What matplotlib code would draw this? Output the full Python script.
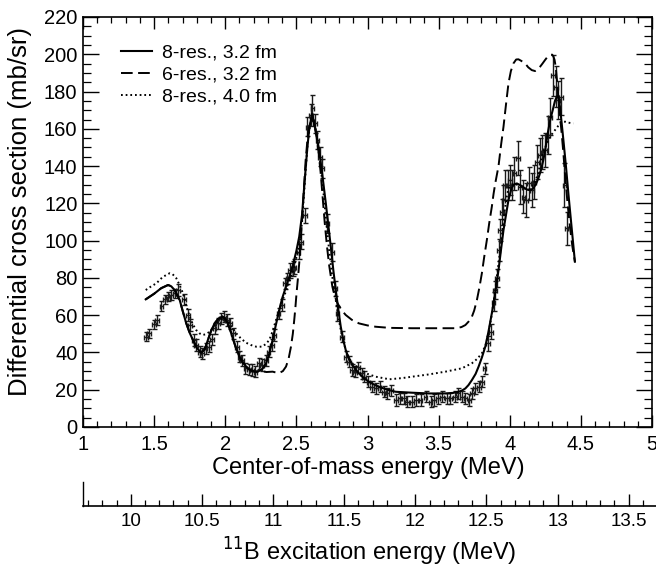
import numpy as np
import matplotlib
matplotlib.use("Agg")
import matplotlib.pyplot as plt
from matplotlib.ticker import MultipleLocator

plt.rcParams['font.family'] = ['Liberation Sans', 'DejaVu Sans']

# ---------------- data ----------------
THRESHOLD = 8.664  # E_x = E_cm + threshold (MeV)

data_e = [1.441, 1.465, 1.500, 1.520, 1.551, 1.574, 1.598, 1.621, 1.644, 1.668,
          1.708, 1.738, 1.754, 1.778, 1.796, 1.820, 1.838, 1.862, 1.885, 1.909,
          1.925, 1.948, 1.972, 1.991, 2.011, 2.035, 2.053, 2.081, 2.100, 2.119,
          2.142, 2.165, 2.189, 2.212, 2.235, 2.259, 2.287, 2.305, 2.329, 2.345,
          2.375, 2.399, 2.422, 2.437, 2.455, 2.474, 2.485, 2.515, 2.532, 2.560,
          2.578, 2.602, 2.613, 2.632, 2.648, 2.665, 2.683, 2.718, 2.753, 2.772,
          2.789, 2.819, 2.847, 2.870, 2.889, 2.913, 2.932, 2.959, 2.975, 3.006,
          3.034, 3.060, 3.085, 3.116, 3.139, 3.165, 3.198, 3.226, 3.256, 3.279,
          3.314, 3.342, 3.373, 3.408, 3.443, 3.466, 3.496, 3.524, 3.559, 3.583,
          3.613, 3.636, 3.664, 3.688, 3.716, 3.735, 3.758, 3.782, 3.804, 3.823,
          3.847, 3.870, 3.886, 3.898, 3.909, 3.921, 3.933, 3.944, 3.956, 3.968,
          3.986, 4.003, 4.015, 4.033, 4.057, 4.073, 4.096, 4.115, 4.136, 4.155,
          4.173, 4.194, 4.213, 4.230, 4.248, 4.267, 4.283, 4.306, 4.323, 4.341,
          4.358, 4.384, 4.400]
data_sigma = [48.4, 50.3, 55.1, 57.4, 64.9, 68.5, 69.9, 70.8, 71.7, 73.5,
              68.5, 60.1, 54.7, 46.7, 44.0, 40.4, 39.5, 42.2, 43.1, 47.0,
              52.9, 55.6, 58.3, 59.2, 57.4, 55.6, 50.3, 43.1, 37.7, 35.9,
              31.5, 31.0, 30.6, 29.7, 34.2, 33.3, 35.9, 40.4, 44.0, 49.4,
              61.0, 65.5, 77.1, 79.8, 84.2, 85.1, 86.0, 94.0, 99.4, 113.7,
              161.1, 167.4, 171.0, 162.9, 154.0, 145.0, 138.8, 109.3, 94.0, 74.4,
              61.0, 48.4, 37.7, 35.0, 30.6, 29.7, 32.1, 28.8, 27.0, 24.3,
              21.6, 20.7, 21.6, 18.9, 18.0, 19.8, 14.5, 15.4, 15.4, 13.6,
              13.6, 14.5, 14.5, 16.3, 13.6, 14.5, 15.4, 16.3, 15.4, 15.4,
              16.3, 18.0, 16.3, 15.4, 14.5, 18.0, 20.7, 21.6, 24.3, 31.5,
              44.9, 51.1, 67.2, 73.5, 80.0, 95.0, 105.7, 115.5, 121.8, 129.8,
              129.8, 132.5, 129.8, 136.1, 144.2, 128.9, 123.6, 121.8, 130.7, 127.1,
              131.6, 142.3, 145.9, 147.7, 148.6, 156.7, 166.5, 188.8, 182.6, 175.4,
              177.2, 129.8, 106.6]
data_err = [2.5, 2.5, 2.5, 2.5, 2.5, 2.5, 2.5, 2.5, 2.5, 3,
            3, 3, 3, 3, 3, 3, 3, 3, 3, 3,
            3, 3, 3, 3, 3, 3, 3, 3, 3, 3,
            3, 3, 3, 3, 3, 3, 3, 3, 3, 3,
            3, 3, 3, 3, 4, 4, 4, 4, 4, 4,
            5, 6, 7, 5, 5, 5, 5, 5, 5, 4,
            4, 3, 3, 3, 3, 3, 3, 3, 3, 3,
            3, 3, 3, 3, 3, 3, 3, 3, 3, 3,
            3, 3, 3, 3, 3, 3, 3, 3, 3, 3,
            3, 3, 3, 3, 3, 3, 3, 3, 3, 3,
            4, 4, 5, 5, 5, 6, 6, 7, 8, 8,
            8, 8, 8, 9, 9, 9, 9, 9, 9, 9,
            9, 9, 9, 9, 9, 10, 10, 11, 11, 10,
            10, 12, 9]

# 8-res., 3.2 fm
solid_e = [1.441, 1.50, 1.55, 1.598, 1.62, 1.644, 1.68, 1.70, 1.726, 1.75,
           1.773, 1.80, 1.83, 1.855, 1.878, 1.90, 1.925, 1.95, 1.98, 2.00,
           2.018, 2.035, 2.053, 2.075, 2.10, 2.125, 2.147, 2.175, 2.205, 2.23,
           2.252, 2.27, 2.287, 2.31, 2.333, 2.355, 2.38, 2.40, 2.427, 2.45,
           2.473, 2.50, 2.52, 2.54, 2.555, 2.575, 2.59, 2.61, 2.63, 2.645,
           2.66, 2.683, 2.707, 2.725, 2.742, 2.76, 2.777, 2.795, 2.812, 2.83,
           2.847, 2.87, 2.894, 2.92, 2.94, 2.975, 3.01, 3.045, 3.08, 3.14,
           3.198, 3.314, 3.431, 3.548, 3.60, 3.641, 3.665, 3.688, 3.71, 3.734,
           3.76, 3.781, 3.805, 3.828, 3.85, 3.874, 3.90, 3.921, 3.94, 3.956,
           3.975, 3.991, 4.014, 4.03, 4.05, 4.073, 4.09, 4.108, 4.125, 4.143,
           4.166, 4.185, 4.201, 4.22, 4.236, 4.25, 4.267, 4.285, 4.302, 4.318,
           4.33, 4.34, 4.353, 4.365, 4.377, 4.395, 4.412, 4.435, 4.458]
solid_sigma = [68.5, 71.5, 74.5, 76.2, 75.5, 73.5, 68.1, 62.5, 55.6, 50.5,
               46.7, 42.5, 39.9, 41.5, 46.7, 51.5, 55.6, 58.0, 59.2, 58.0,
               55.6, 52.0, 47.6, 42.5, 37.7, 34.5, 32.4, 30.5, 29.7, 29.8,
               30.6, 32.0, 34.2, 39.5, 46.7, 54.5, 62.8, 69.0, 75.3, 80.5,
               86.0, 94.5, 102.1, 114.0, 128.9, 148.0, 160.0, 168.0, 161.0, 155.0,
               148.6, 135.0, 120.0, 108.0, 96.7, 84.0, 73.5, 63.0, 53.8, 46.5,
               41.3, 36.5, 33.3, 30.5, 28.8, 26.2, 24.3, 22.8, 21.6, 20.0,
               18.9, 18.4, 18.0, 18.0, 18.3, 18.9, 19.6, 20.7, 22.5, 25.2,
               28.5, 32.4, 37.5, 43.1, 51.0, 61.0, 73.0, 84.2, 96.0, 105.7,
               114.5, 121.8, 128.5, 130.2, 130.7, 129.8, 129.0, 128.0, 127.3, 127.1,
               128.0, 130.5, 133.4, 138.0, 143.2, 149.0, 157.6, 165.0, 170.0, 175.0,
               177.2, 178.0, 171.8, 163.0, 154.0, 140.0, 125.4, 107.0, 88.7]

# 6-res., 3.2 fm
dash_e = [1.441, 1.50, 1.55, 1.598, 1.62, 1.644, 1.68, 1.70, 1.726, 1.75,
          1.773, 1.80, 1.83, 1.855, 1.878, 1.90, 1.925, 1.95, 1.98, 2.00,
          2.018, 2.035, 2.053, 2.075, 2.10, 2.125, 2.147, 2.175, 2.205, 2.23,
          2.252, 2.29, 2.333, 2.368, 2.38, 2.405, 2.427, 2.445, 2.462, 2.475,
          2.485, 2.493, 2.501, 2.51, 2.52, 2.535, 2.55, 2.565, 2.58, 2.595,
          2.61, 2.625, 2.64, 2.655, 2.67, 2.685, 2.70, 2.715, 2.73, 2.753,
          2.77, 2.789, 2.82, 2.847, 2.89, 2.94, 3.0, 3.057, 3.154, 3.314,
          3.5, 3.618, 3.66, 3.688, 3.71, 3.734, 3.75, 3.769, 3.787, 3.804,
          3.82, 3.839, 3.855, 3.874, 3.886, 3.898, 3.921, 3.94, 3.956, 3.975,
          3.991, 4.008, 4.026, 4.045, 4.061, 4.08, 4.108, 4.13, 4.155, 4.178,
          4.195, 4.213, 4.23, 4.248, 4.265, 4.283, 4.298, 4.306, 4.315, 4.323,
          4.332, 4.341, 4.353, 4.365, 4.377, 4.388, 4.405, 4.423, 4.44, 4.458]
dash_sigma = [68.5, 71.5, 74.5, 76.2, 75.5, 73.5, 68.1, 62.5, 55.6, 50.5,
              46.7, 42.5, 39.9, 41.5, 46.7, 51.5, 55.6, 58.0, 59.2, 58.0,
              55.6, 52.0, 47.6, 42.5, 37.7, 34.5, 32.4, 30.5, 29.7, 29.8,
              30.0, 29.5, 29.7, 29.0, 29.0, 30.0, 32.4, 36.5, 43.1, 50.0,
              57.4, 64.0, 71.7, 79.0, 87.8, 105.0, 124.0, 143.0, 156.0, 164.0,
              167.0, 164.0, 157.0, 148.0, 137.0, 123.0, 109.0, 97.0, 87.0, 75.3,
              70.0, 66.4, 62.5, 60.1, 57.5, 55.6, 54.5, 53.8, 53.2, 53.0,
              53.0, 53.0, 53.6, 54.7, 56.5, 59.2, 62.5, 68.1, 75.0, 82.5,
              91.0, 100.3, 109.0, 118.2, 125.0, 130.7, 140.0, 152.0, 161.1, 174.0,
              184.4, 191.0, 195.1, 197.2, 197.3, 196.5, 195.1, 193.0, 191.5, 191.0,
              191.8, 193.3, 195.0, 196.9, 198.6, 199.6, 199.8, 199.0, 197.0, 193.3,
              186.0, 177.2, 167.0, 157.6, 147.0, 136.1, 121.0, 107.5, 97.0, 88.7]

# 8-res., 4.0 fm
dot_e = [1.441, 1.48, 1.516, 1.56, 1.609, 1.63, 1.656, 1.68, 1.703, 1.725,
         1.75, 1.773, 1.796, 1.82, 1.843, 1.865, 1.89, 1.915, 1.937, 1.96,
         1.983, 2.005, 2.03, 2.055, 2.077, 2.11, 2.147, 2.18, 2.217, 2.259,
         2.285, 2.31, 2.333, 2.357, 2.38, 2.403, 2.44, 2.473, 2.50, 2.52,
         2.54, 2.56, 2.58, 2.60, 2.615, 2.63, 2.65, 2.67, 2.69, 2.71,
         2.73, 2.75, 2.777, 2.80, 2.82, 2.847, 2.87, 2.90, 2.94, 3.0,
         3.057, 3.154, 3.25, 3.314, 3.43, 3.548, 3.664, 3.734, 3.77, 3.804,
         3.83, 3.851, 3.875, 3.898, 3.92, 3.944, 3.96, 3.979, 3.991, 4.01,
         4.03, 4.06, 4.09, 4.12, 4.15, 4.175, 4.20, 4.224, 4.25, 4.271,
         4.295, 4.318, 4.34, 4.365, 4.39, 4.412, 4.447]
dot_sigma = [73.5, 75.5, 77.1, 80.5, 82.5, 82.0, 79.8, 76.0, 71.7, 65.5,
             59.2, 55.0, 52.0, 50.2, 49.4, 49.8, 51.1, 53.5, 55.6, 57.5,
             58.3, 57.5, 55.6, 52.8, 50.3, 47.5, 45.2, 44.0, 43.1, 43.1,
             44.5, 46.7, 51.5, 57.4, 63.0, 68.1, 75.5, 82.5, 91.0, 96.7,
             110.0, 132.0, 153.0, 164.0, 166.0, 162.0, 152.0, 140.0, 126.0, 110.0,
             95.0, 82.0, 68.0, 57.0, 49.0, 41.5, 37.0, 33.5, 31.5, 28.5,
             27.0, 25.6, 26.3, 27.0, 28.2, 29.7, 31.5, 34.2, 36.5, 39.5,
             44.0, 50.3, 61.0, 73.5, 87.0, 102.1, 114.0, 123.6, 128.0, 130.0,
             130.5, 129.8, 128.5, 127.5, 128.0, 131.0, 136.0, 145.0, 150.0, 154.0,
             157.0, 159.3, 161.5, 163.8, 163.8, 163.3, 162.9]

legend_labels = ["8-res., 3.2 fm", "6-res., 3.2 fm", "8-res., 4.0 fm"]
x_ticks = [1, 1.5, 2, 2.5, 3, 3.5, 4, 4.5, 5]
x_ticklabels = ["1", "1.5", "2", "2.5", "3", "3.5", "4", "4.5", "5"]
y_ticks = [0, 20, 40, 60, 80, 100, 120, 140, 160, 180, 200, 220]
ex_ticks = [10, 10.5, 11, 11.5, 12, 12.5, 13, 13.5]
ex_ticklabels = ["10", "10.5", "11", "11.5", "12", "12.5", "13", "13.5"]

# ---------------- figure ----------------
W, H = 656, 567
fig = plt.figure(figsize=(W / 100, H / 100), dpi=100)

def fx(px):
    return px / W

def fy(py):
    return 1 - py / H

L, R, T, B = 83, 652, 17, 427
ax = fig.add_axes([fx(L), fy(B), fx(R) - fx(L), fy(T) - fy(B)])

ax.errorbar(data_e, data_sigma, yerr=data_err, xerr=0.013, fmt='none',
            ecolor='#1a1a1a', elinewidth=1.0, capsize=1.8, capthick=1.0, zorder=2)

l1, = ax.plot(solid_e, solid_sigma, color='black', lw=1.5, zorder=3)
l2, = ax.plot(dash_e, dash_sigma, color='black', lw=1.4, zorder=3)
l2.set_dashes([6, 2.8])
l3, = ax.plot(dot_e, dot_sigma, color='black', lw=1.4, zorder=3)
l3.set_dashes([0.9, 1.5])

ax.set_xlim(1, 5)
ax.set_ylim(0, 220)
ax.set_xticks(x_ticks)
ax.set_xticklabels(x_ticklabels)
ax.set_yticks(y_ticks)
ax.xaxis.set_minor_locator(MultipleLocator(0.1))
ax.yaxis.set_minor_locator(MultipleLocator(5))
for s in ax.spines.values():
    s.set_linewidth(1.2)
ax.tick_params(axis='x', which='major', direction='in', length=8.5, width=1.0,
               top=True, bottom=True, labelsize=14.5, pad=6)
ax.tick_params(axis='x', which='minor', direction='in', length=4.3, width=0.9,
               top=True, bottom=True)
ax.tick_params(axis='y', which='major', direction='in', length=11.5, width=1.0,
               left=True, right=True, labelsize=14.5, pad=4)
ax.tick_params(axis='y', which='minor', direction='in', length=5.5, width=0.9,
               left=True, right=True)

leg = ax.legend([l1, l2, l3], legend_labels, loc='upper left',
                bbox_to_anchor=(fx(121), fy(44)), bbox_transform=fig.transFigure,
                frameon=False, fontsize=14, handlelength=1.6, handletextpad=0.5,
                labelspacing=0.22, borderpad=0, borderaxespad=0)

fig.text(fx(368.5), fy(468), "Center-of-mass energy (MeV)", ha='center', va='center',
         fontsize=17)
fig.text(fx(20), fy(212), "Differential cross section (mb/sr)", ha='center',
         va='center', rotation=90, fontsize=18.5)

# ---------------- secondary excitation-energy axis ----------------
AY = 506
ax2 = fig.add_axes([fx(L), fy(AY), fx(R + 4) - fx(L), fy(AY - 24) - fy(AY)])
ax2.set_xlim(1 + THRESHOLD, 1 + THRESHOLD + 4 * (R + 4 - L) / (R - L))
ax2.set_ylim(0, 1)
ax2.set_yticks([])
ax2.patch.set_visible(False)
for side in ['top', 'right']:
    ax2.spines[side].set_visible(False)
ax2.spines['bottom'].set_linewidth(1.2)
ax2.spines['left'].set_linewidth(1.0)
ax2.set_xticks(ex_ticks)
ax2.set_xticklabels(ex_ticklabels)
ax2.xaxis.set_minor_locator(MultipleLocator(0.1))
ax2.tick_params(axis='x', which='major', direction='in', length=8.5, width=1.0,
                labelsize=13.5, pad=5)
ax2.tick_params(axis='x', which='minor', direction='in', length=4.3, width=0.9)

fig.text(fx(369), fy(552), r"$^{11}$B excitation energy (MeV)", ha='center',
         va='center', fontsize=17)

fig.savefig("out.png", dpi=100)
